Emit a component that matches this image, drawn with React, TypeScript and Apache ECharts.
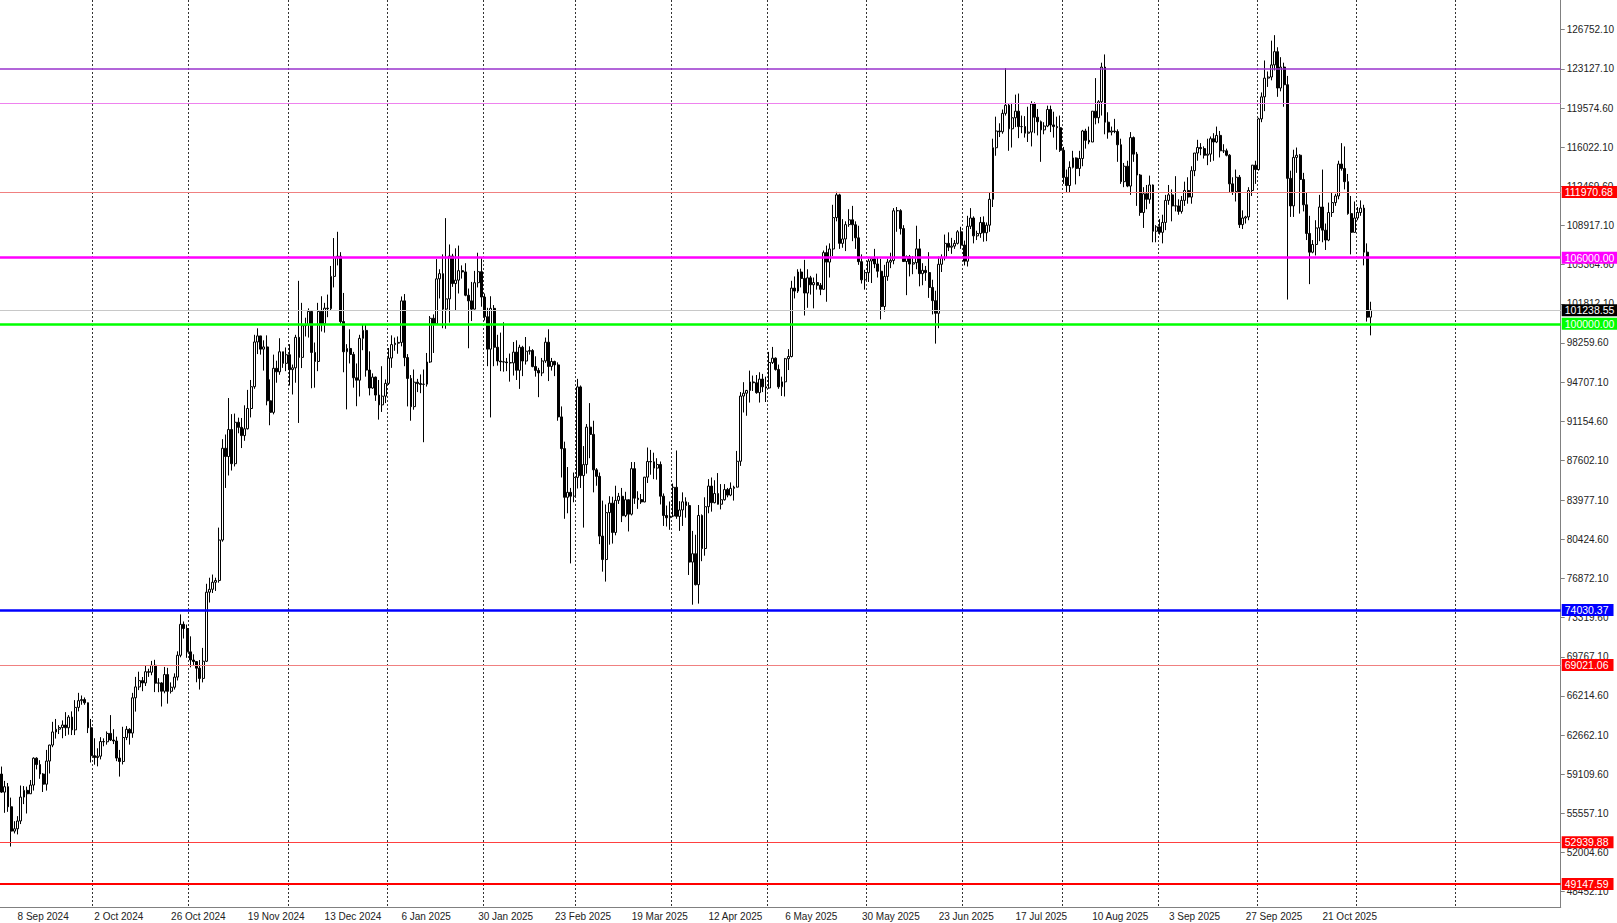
import { useEffect, useRef } from "react";
import * as echarts from "echarts";

// Daily candles [open, high, low, close]
const sep2024 = [
  [59130,59810,57420,57490],[57490,58510,55610,57980],[57980,58320,55700,56160],[56160,56990,52550,53950],
  [53950,54850,53740,54160],[54160,55310,53650,54870],[54870,58090,54590,57040],[57040,58040,56400,57650],
  [57650,57990,55550,57340],[57340,58590,57320,58130],[58130,60650,57630,60570],[60570,60650,59550,59990],
  [59990,60390,58700,59130],[59130,59210,57500,58210],[58210,61320,57630,60310],[60310,61790,59180,61760],
  [61760,63870,61570,62950],[62950,64130,62350,63200],[63200,63560,62760,63350],[63350,64000,62380,63580],
  [63580,64750,62590,63330],[63330,64480,62700,64300],[64300,64820,62670,63140],[63140,65840,62670,65180],
  [65180,66500,64820,65790],[65790,66260,65420,65890],[65890,66080,65420,65600],[65600,65620,62850,63330],
];
const oct2024 = [
  [63330,64130,60180,60800],[60800,62380,59980,60630],[60630,61470,59830,60750],[60750,62480,60460,62080],
  [62080,62370,61650,62060],[62060,63000,61800,62820],[62820,64480,62130,62220],[62220,63200,61850,62130],
  [62130,62520,60300,60580],[60580,61320,58900,60270],[60270,63420,60000,62450],[62450,63480,62210,63190],
  [63190,63290,61800,62850],[62850,66500,62420,66050],[66050,67950,64800,67040],[67040,68420,66750,67610],
  [67610,67940,66650,67400],[67400,68970,67120,68420],[68420,68690,67950,68370],[68370,69400,68100,69000],
  [69000,69500,66570,67380],[67380,67830,66560,67400],[67400,67470,65260,66650],[66650,68850,66460,68160],
  [68160,68770,65520,66640],[66640,67450,66440,67010],[67010,68270,66800,67930],[67930,70270,67620,69910],
  [69910,73620,69730,72720],[72720,72980,71430,72340],[72340,72700,69680,70220],
];
const nov2024 = [
  [70220,71630,68820,69480],[69480,70000,69030,69340],[69340,69390,67460,68740],[68740,69480,66800,67810],
  [67810,70580,67450,69370],[69370,76400,69300,75640],[75640,76950,74700,75900],[75900,77240,75560,76540],
  [76540,76950,75750,76700],[76700,81500,76500,80370],[80370,89530,80220,88700],[88700,89950,85100,87950],
  [87950,93260,86230,90400],[90400,91800,86680,87300],[87300,91850,87050,91060],[91060,91480,90060,90600],
  [90600,91450,88720,89850],[89850,92600,89380,90470],[90470,94000,90400,92310],[92310,94900,91500,94290],
  [94290,99000,94100,98350],[98350,99590,97250,98900],[98900,98900,97200,97700],[97700,98500,95750,97900],
  [97900,98950,92600,93010],[93010,94950,90790,91960],[91960,97200,91780,95960],[95960,96650,94650,95640],
  [95640,98690,95370,97460],[97460,97460,96000,96410],
];
const dec2024 = [
  [96410,97850,95700,97190],[97190,98150,94400,95840],[95840,96300,93580,96000],[96000,99000,94650,98770],
  [98770,103900,91000,96950],[96950,101900,95980,99830],[99830,100550,98850,99920],[99920,101400,98750,101120],
  [101120,101200,94150,97400],[97400,98300,94200,96580],[96580,101900,95700,101120],[101120,102500,99300,100000],
  [100000,101900,99200,101420],[101420,102650,100600,101370],[101370,105250,101200,104300],[104300,107780,103300,106050],
  [106050,108350,105300,106130],[106130,106500,100000,100200],[100200,102800,95600,97460],[97460,98150,92230,97760],
  [97760,99500,96400,97220],[97220,97450,94200,95100],[95100,96400,92520,94880],[94880,99000,93400,98680],
  [98680,99950,97600,99400],[99400,99900,95200,95800],[95800,97500,93500,94170],[94170,95500,94100,95160],
  [95160,95200,93000,93530],[93530,94900,91300,92640],[92640,96150,92000,93430],
];
const jan2025 = [
  [93430,94950,92800,94590],[94590,97800,94450,96890],[96890,98950,96000,98110],[98110,98750,97550,98240],
  [98240,98850,97280,98310],[98310,102480,97950,102080],[102080,102700,96150,96930],[96930,97250,92500,95040],
  [95040,95350,91200,92480],[92480,95850,92200,94700],[94700,95000,93800,94570],[94570,95400,93700,94500],
  [94500,95850,89250,94520],[94520,97350,94300,96530],[96530,100700,96450,100500],[100500,100850,97350,99990],
  [99990,105870,99950,104080],[104080,104950,102300,104550],[104550,106300,99600,101330],[101330,109590,99550,102260],
  [102260,107200,100100,106150],[106150,106350,103350,103650],[103650,106850,101250,103960],[103960,107100,102750,104820],
  [104820,105300,104100,104710],[104710,105500,102500,102590],[102590,103200,97780,102080],[102080,103800,100250,101330],
  [101330,104800,101300,103730],[103730,106450,103300,104730],[104730,106050,101550,102430],
];
const feb2025 = [
  [102430,102750,100300,100640],[100640,101450,96150,97700],[97700,102500,91500,101400],[101400,101700,96150,97870],
  [97870,99000,96200,96620],[96620,99200,95700,96550],[96550,100140,95650,96530],[96530,96900,95700,96470],
  [96470,97300,94750,96450],[96450,98350,95300,97430],[97430,98500,94900,95780],[95780,98100,94090,97870],
  [97870,98000,95250,96620],[96620,98800,96300,97510],[97510,97950,97200,97570],[97570,97700,96050,96120],
  [96120,97050,95200,95770],[95770,96000,93340,95540],[95540,96900,95250,96630],[96630,98750,96450,98330],
  [98330,99500,94800,96130],[96130,96900,95750,96580],[96580,96650,95250,96270],[96270,96500,91200,91550],
  [91550,92500,86050,88670],[88670,89300,82300,84250],[84250,87000,82800,84700],[84700,85100,78250,84350],
];
const mar2025 = [
  [84350,86500,83800,86060],[86060,95000,85050,94270],[94270,94400,85100,86220],[86220,88900,81500,87220],
  [87220,90900,86400,90620],[90620,92800,87800,89960],[89960,91200,84700,86740],[86740,86900,85300,86150],
  [86150,86500,80000,80730],[80730,83950,77500,78600],[78600,83600,76600,82860],[82860,84350,79950,83720],
  [83720,84300,80050,81060],[81060,85300,80800,83970],[83970,84650,83650,84340],[84340,85100,82000,82580],
  [82580,84750,82450,84030],[84030,84050,81150,82720],[82720,87450,82600,86850],[86850,87450,83650,84170],
  [84170,84800,83200,84040],[84040,84550,83650,83830],[83830,86100,83800,86080],[86080,88770,85550,87500],
  [87500,88550,86300,87470],[87470,88300,85900,86900],[86900,87800,85850,87230],[87230,87500,83600,84350],
  [84350,84600,81650,82600],[82600,83500,81600,82390],[82390,83870,81300,82550],
];
const apr2025 = [
  [82550,85500,82450,85160],[85160,88500,82300,82520],[82520,83900,81200,83100],[83100,84700,81650,83840],
  [83840,84250,82400,83500],[83500,83800,77200,78370],[78370,81200,74500,79130],[79130,80850,76250,76320],
  [76320,83550,74600,82600],[82600,82700,78450,79600],[79600,84250,78950,83400],[83400,85900,82800,85270],
  [85270,86050,82950,83760],[83760,85800,83700,84590],[84590,86450,83600,83620],[83620,85450,83150,84030],
  [84030,85450,83950,84950],[84950,85100,84250,84450],[84450,85600,84350,85060],[85060,85300,83950,85170],
  [85170,88460,85150,87520],[87520,93800,87100,93440],[93440,94700,91950,93700],[93700,94000,91650,93950],
  [93950,95750,92850,94720],[94720,95300,93900,94650],[94650,95350,93650,93750],[93750,95600,92850,94980],
  [94980,95450,93800,94280],[94280,95200,92900,94170],
];
const may2025 = [
  [94170,97450,94100,96490],[96490,97900,96350,96880],[96880,96950,95750,95860],[95860,96300,94100,94280],
  [94280,95200,93450,94730],[94730,96900,93400,96830],[96830,97700,95800,97030],[97030,103900,96950,103240],
  [103240,104300,102300,102970],[102970,104950,102800,104700],[104700,105000,103300,104120],[104120,105800,100750,102790],
  [102790,104950,101450,104170],[104170,104350,102650,103540],[103540,104200,101400,103740],[103740,104550,103100,103500],
  [103500,103700,102600,103130],[103130,106650,103100,106460],[106460,107100,102000,105600],[105600,107300,104200,106790],
  [106790,110800,106150,109640],[109640,111980,109300,111700],[111700,111800,106800,107300],[107300,109500,106900,107700],
  [107700,109300,106600,109000],[109000,110400,108800,109440],[109440,110700,107500,108990],[108990,109300,106800,107800],
  [107800,108900,105350,105640],[105640,106300,103650,103990],[103990,104900,103100,104640],
];
const jun2025 = [
  [104640,105900,103800,105700],[105700,105950,103700,105900],[105900,106800,105050,105430],[105430,106000,104200,104770],
  [104770,105900,100400,101570],[101570,105350,101100,104300],[104300,105900,103900,105600],[105600,106450,105050,105750],
  [105750,110500,105400,110260],[110260,110600,108350,110270],[110270,110400,108100,108640],[108640,108950,105700,105650],
  [105650,106200,102600,106100],[106100,106250,104300,105420],[105420,106150,104500,105550],[105550,108900,104950,106800],
  [106800,107700,103400,104550],[104550,105500,103500,104850],[104850,105250,103900,104650],[104650,106500,102350,103300],
  [103300,104000,100850,102100],[102100,103000,98200,100950],[100950,106100,99600,105400],[105400,106300,104700,106000],
  [106000,108100,105750,107300],[107300,108300,106600,106950],[106950,107800,106350,107050],[107050,107600,106800,107300],
  [107300,108500,107200,108350],[108350,108800,106800,107150],
];
const jul2025 = [
  [107150,107550,105300,105680],[105680,109800,105200,108850],[108850,110500,108600,109600],[109600,109750,107300,107980],
  [107980,108450,107600,108200],[108200,109700,107800,109200],[109200,109750,107450,108260],[108260,109200,107500,108950],
  [108950,111900,108350,111300],[111300,116800,110600,115980],[115980,118800,115250,117500],[117500,118200,116950,117430],
  [117430,119450,117250,119100],[119100,123200,118900,119840],[119840,119950,115700,117700],[117700,120050,116000,118700],
  [118700,120800,117850,119300],[119300,120900,116850,117900],[117900,118900,117300,117900],[117900,118850,116900,117300],
  [117300,119700,116500,117400],[117400,120200,116100,119950],[119950,120100,117300,118750],[118750,119500,117100,118340],
  [118340,118450,114700,117600],[117600,118300,117200,117950],[117950,119800,117850,119450],[119450,119800,117400,118050],
  [118050,119250,116900,117900],[117900,118800,115800,117800],[117800,118900,115600,115750],
];
const aug2025 = [
  [115750,116050,112700,113300],[113300,114000,111900,112550],[112550,114750,111950,114200],[114200,115700,114100,115050],
  [115050,115100,112650,114100],[114100,115700,113400,115000],[115000,117600,114300,117500],[117500,117700,115900,116650],
  [116650,117900,116300,116500],[116500,119300,116500,119300],[119300,122300,118100,118700],[118700,120300,118200,120150],
  [120150,123700,118900,123300],[123300,124450,117200,118300],[118300,119200,116800,117400],[117400,117900,117100,117500],
  [117500,118600,117300,117450],[117450,117650,114700,116250],[116250,116800,112700,112900],[112900,114600,112400,114300],
  [114300,114800,112400,112500],[112500,117400,111700,116900],[116900,117000,114700,115400],[115400,115600,110700,113500],
  [113500,113600,109800,110100],[110100,112400,108700,111800],[111800,112600,110400,111300],[111300,113450,110900,112600],
  [112600,112650,107400,108400],[108400,108950,107400,108800],[108800,109500,108100,108300],
];
const sep2025 = [
  [108300,109900,107300,109200],[109200,111700,108500,111200],[111200,112600,110800,111700],[111700,112200,109300,110700],
  [110700,113400,110200,110700],[110700,111300,109900,110200],[110200,111600,110000,111200],[111200,112900,110700,112100],
  [112100,113300,110900,111500],[111500,114300,110900,113900],[113900,115500,113400,115500],[115500,116700,114800,116000],
  [116000,116400,115300,115900],[115900,116100,115000,115300],[115300,116800,114400,115400],[115400,117000,114700,116800],
  [116800,117300,114800,116500],[116500,117900,116400,117100],[117100,117500,115100,115700],[115700,116300,115500,115700],
  [115700,115900,115200,115300],[115300,115400,111900,112700],[112700,113300,111700,112000],[112000,114000,111100,113300],
  [113300,113500,108700,109000],[109000,110300,108600,109600],[109600,109800,109100,109700],[109700,112400,109400,112100],
  [112100,114400,111600,114400],[114400,114800,112700,114000],
];
const oct2025 = [
  [114000,118700,113900,118600],[118600,121000,118300,120600],[120600,123900,119300,122300],[122300,122900,121500,122400],
  [122400,125700,122100,123500],[123500,126200,123000,124700],[124700,125100,120600,121400],[121400,124200,121100,123300],
  [123300,123700,119700,121700],[121700,122500,102200,113200],[113200,113900,109700,110700],[110700,115800,109700,115100],
  [115100,116000,113700,115300],[115300,115400,110000,113100],[113100,113700,110200,110800],[110800,111900,107600,108200],
  [108200,109800,103600,106500],[106500,107600,106400,107200],[107200,109400,106200,108700],[108700,111700,107500,110600],
  [110600,114000,107400,108500],[108500,109100,106700,107600],[107600,111000,107500,110100],[110100,111900,109700,111000],
  [111000,111800,110700,111600],[111600,114800,111300,114500],[114500,116400,113900,114100],[114100,116100,112200,112900],
  [112900,113600,109900,110000],[110000,111600,106300,108300],[108300,111100,108300,109600],
];
const nov2025 = [
  [109600,110600,109400,110100],[110100,111200,109800,110500],[110500,110800,105300,106500],
  [106500,107300,100200,100600],[100600,102000,98950,101238.55],
];

const months = [sep2024, oct2024, nov2024, dec2024, jan2025, feb2025, mar2025, apr2025,
  may2025, jun2025, jul2025, aug2025, sep2025, oct2025, nov2025];

// Right-axis tick labels
const yTicks = [126752.1, 123127.1, 119574.6, 116022.1, 112469.6, 108917.1, 105364.6, 101812.1,
  98259.6, 94707.1, 91154.6, 87602.1, 83977.1, 80424.6, 76872.1, 73319.6, 69767.1, 66214.6,
  62662.1, 59109.6, 55557.1, 52004.6, 48452.1];

// Horizontal levels
const levelValues = [123127.1, 120000, 111970.68, 106000, 101238.55, 100000, 74030.37, 69021.06, 52939.88, 49147.59];
const levelStyles = [
  { color: "#9932CC", width: 1.5, tag: "" },
  { color: "#EE82EE", width: 1.2, tag: "" },
  { color: "#F08080", width: 1.2, tag: "#FF0000" },
  { color: "#FF00FF", width: 2.5, tag: "#FF00FF" },
  { color: "#C8C8C8", width: 1, tag: "#000000" },
  { color: "#00FF00", width: 2.5, tag: "#00FF00" },
  { color: "#0000FF", width: 2.5, tag: "#0000FF" },
  { color: "#F08080", width: 1.2, tag: "#FF0000" },
  { color: "#FF4040", width: 1.2, tag: "#FF0000" },
  { color: "#FF0000", width: 2, tag: "#FF0000" },
];

// Category boundaries where the dotted vertical grid lines sit
const gridBars = [29, 59, 90, 121, 151, 180, 210, 240, 271, 301, 332, 362, 393, 424, 455];

const START = Date.UTC(2024, 8, 3);
const SLOTS = 488;
const LABEL_FIRST = 5;
const LABEL_STEP = 24;
const MON = ["Jan", "Feb", "Mar", "Apr", "May", "Jun", "Jul", "Aug", "Sep", "Oct", "Nov", "Dec"];
const FONT = "'Liberation Sans', Arial, sans-serif";

export default function App() {
  const ref = useRef<HTMLDivElement>(null);
  useEffect(() => {
    const chart = echarts.init(ref.current!, null, { renderer: "svg" });
    const bars: number[][] = [];
    months.forEach((m) => m.forEach((b) => bars.push(b)));
    const barCount = bars.length;
    const cats: string[] = [];
    for (let i = 0; i < SLOTS; i++) {
      const d = new Date(START + i * 86400000);
      cats.push(`${d.getUTCDate()} ${MON[d.getUTCMonth()]} ${d.getUTCFullYear()}`);
    }
    const candleData = bars.map((b) => [b[0], b[3], b[2], b[1]]);
    const markData = levelValues.map((v, i) => {
      const s = levelStyles[i];
      return {
        yAxis: v,
        lineStyle: { color: s.color, width: s.width, type: "solid" },
        label: s.tag
          ? {
              show: true,
              position: "end",
              distance: 1,
              formatter: v.toFixed(2),
              color: "#ffffff",
              backgroundColor: s.tag,
              padding: [1, 5, 0, 3],
              fontSize: 10.5,
              lineHeight: 11,
              fontFamily: FONT,
            }
          : { show: false },
      };
    });
    chart.setOption({
      animation: false,
      backgroundColor: "#ffffff",
      grid: { left: 0, right: 55, top: 0, bottom: 16, containLabel: false },
      xAxis: {
        type: "category",
        data: cats,
        boundaryGap: true,
        axisLine: { show: true, onZero: false, lineStyle: { color: "#808080", width: 1 } },
        axisTick: { show: false },
        axisLabel: {
          interval: (i: number) => i < barCount && i >= LABEL_FIRST && (i - LABEL_FIRST) % LABEL_STEP === 0,
          align: "left",
          margin: 4,
          fontSize: 10,
          fontFamily: FONT,
          color: "#222",
        },
        splitLine: {
          show: true,
          interval: (i: number) => gridBars.indexOf(i) >= 0,
          lineStyle: { color: "#333", width: 1, type: [2, 2] },
        },
      },
      yAxis: {
        type: "value",
        position: "right",
        min: 47062,
        max: 129390,
        axisLine: { show: true, lineStyle: { color: "#808080", width: 1 } },
        axisTick: { show: true, length: 4, customValues: yTicks, lineStyle: { color: "#808080" } },
        axisLabel: {
          show: true,
          customValues: yTicks,
          margin: 6,
          fontSize: 10,
          fontFamily: FONT,
          color: "#222",
          formatter: (v: number) => v.toFixed(2),
        },
        splitLine: { show: false },
      },
      series: [
        {
          type: "candlestick",
          data: candleData,
          barWidth: 2.4,
          itemStyle: {
            color: "#ffffff",
            color0: "#000000",
            borderColor: "#000000",
            borderColor0: "#000000",
            borderWidth: 1,
          },
          markLine: {
            silent: true,
            symbol: ["none", "none"],
            animation: false,
            data: markData,
          },
        },
      ],
    });
    return () => chart.dispose();
  }, []);
  return (
    <div
      ref={ref}
      style={{ position: "fixed", left: 0, top: 0, width: 1617, height: 923, background: "#fff" }}
    />
  );
}
